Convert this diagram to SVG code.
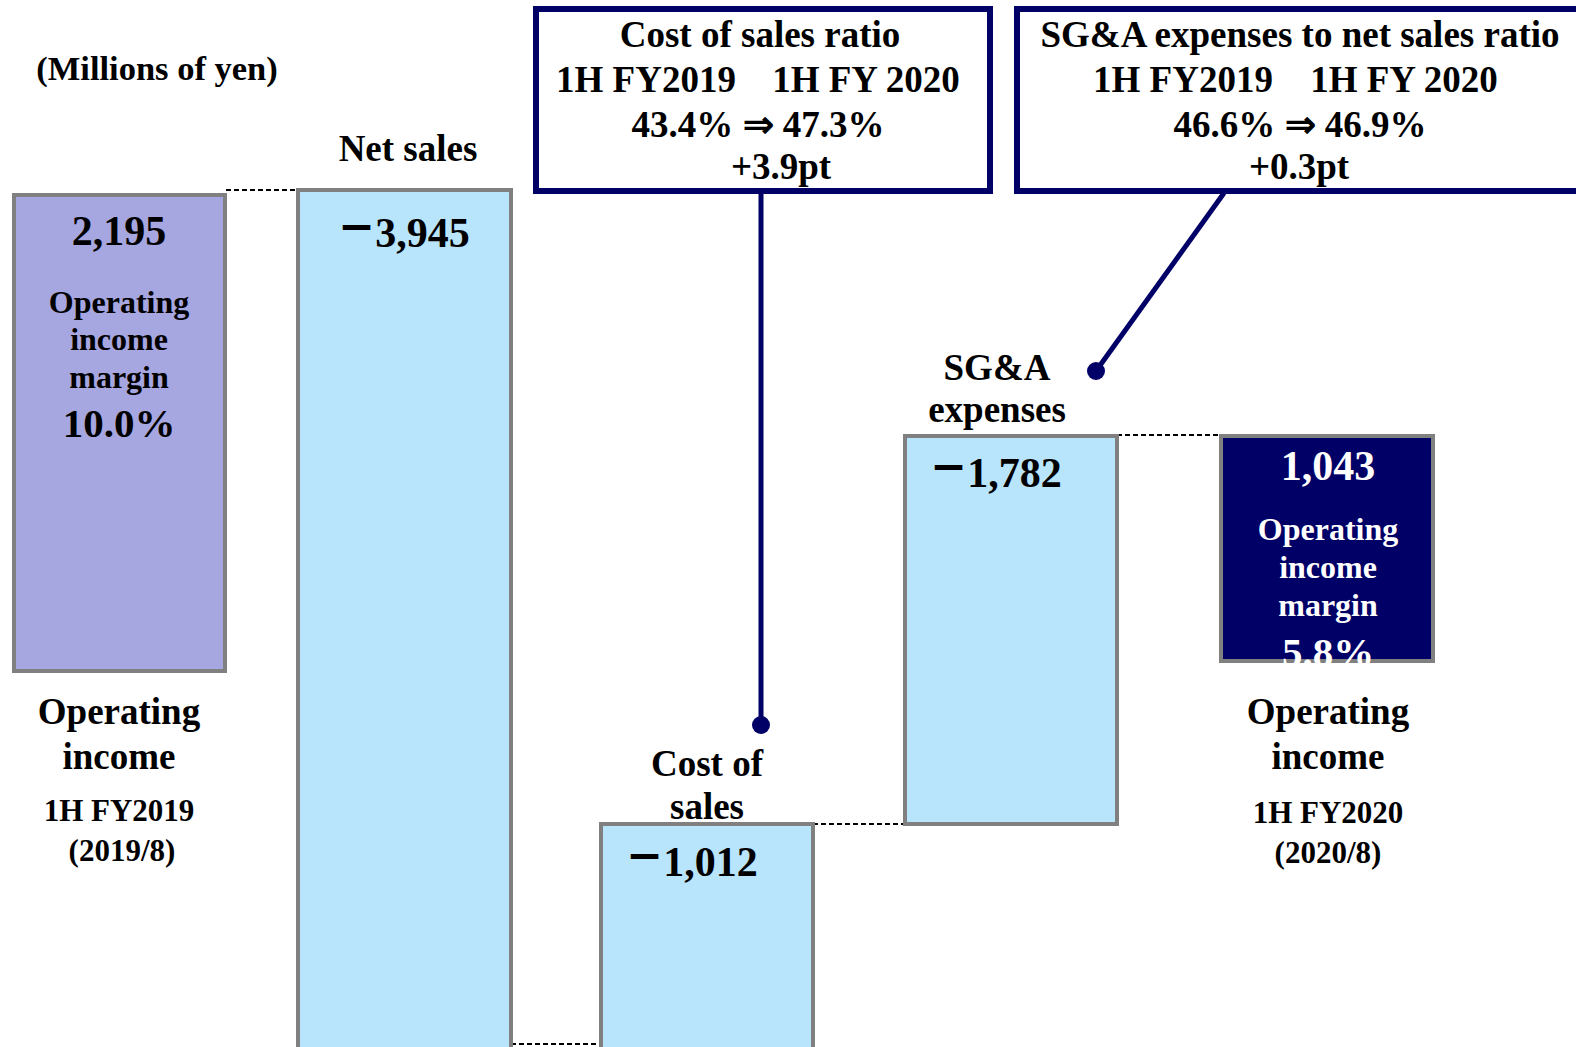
<svg xmlns="http://www.w3.org/2000/svg" width="1576" height="1047" viewBox="0 0 1576 1047">
<style>
text{font-family:"Liberation Serif","Times New Roman",serif;font-weight:bold;fill:#000;text-anchor:middle}
.bar{stroke:#808080;stroke-width:4}
.blue{fill:#B8E4FC}
.num{font-size:42px}
.lab{font-size:37px}
.sm{font-size:31px}
.mg{font-size:32px}
.w{fill:#fff}
.minus{font-family:"DejaVu Serif",serif;font-size:44px}
.call{fill:#fff;stroke:#000066;stroke-width:6}
.dash{stroke:#000;stroke-width:2;stroke-dasharray:5 3;fill:none}
.con{stroke:#000066;stroke-width:5;fill:none}
.dot{fill:#000066}
</style>
<rect width="1576" height="1047" fill="#fff"/>
<text x="157" y="80" style="font-size:34.5px">(Millions of yen)</text>

<g id="connectors">
<line class="dash" x1="226" y1="190" x2="298" y2="190"/>
<line class="dash" x1="511" y1="1044" x2="601" y2="1044"/>
<line class="dash" x1="813" y1="824" x2="905" y2="824"/>
<line class="dash" x1="1117" y1="435" x2="1221" y2="435"/>
<line class="con" x1="761" y1="193" x2="761" y2="725"/>
<circle class="dot" cx="761" cy="725" r="9"/>
<line class="con" x1="1224" y1="193" x2="1096" y2="371"/>
<circle class="dot" cx="1096" cy="371" r="9"/>
</g>

<g id="op2019">
<rect class="bar" x="14" y="195" width="211" height="476" fill="#A6A6E0"/>
<text class="num" x="119" y="245">2,195</text>
<text class="mg" x="119" y="313">Operating</text>
<text class="mg" x="119" y="350">income</text>
<text class="mg" x="119" y="388">margin</text>
<text x="119" y="437" style="font-size:41px">10.0%</text>
<text class="lab" x="119" y="724">Operating</text>
<text class="lab" x="119" y="769">income</text>
<text class="sm" x="119" y="821">1H FY2019</text>
<text class="sm" x="122" y="861">(2019/8)</text>
</g>

<g id="netsales">
<text class="lab" x="408" y="161">Net sales</text>
<rect class="bar blue" x="298" y="190" width="213" height="862"/>
<text class="num" x="404" y="247"><tspan class="minus" dy="-6">−</tspan><tspan dy="6">3,945</tspan></text>
</g>

<g id="costofsales">
<text class="lab" x="707" y="776">Cost of</text>
<text class="lab" x="707" y="819">sales</text>
<rect class="bar blue" x="601" y="824" width="212" height="230"/>
<text class="num" x="692" y="876"><tspan class="minus" dy="-6">−</tspan><tspan dy="6">1,012</tspan></text>
</g>

<g id="sga">
<text class="lab" x="997" y="380">SG&amp;A</text>
<text class="lab" x="997" y="422">expenses</text>
<rect class="bar blue" x="905" y="436" width="212" height="388"/>
<text class="num" x="996" y="487"><tspan class="minus" dy="-6">−</tspan><tspan dy="6">1,782</tspan></text>
</g>

<g id="op2020">
<rect class="bar" x="1221" y="436" width="212" height="225" fill="#000066"/>
<text class="num w" x="1328" y="480">1,043</text>
<text class="mg w" x="1328" y="540">Operating</text>
<text class="mg w" x="1328" y="578">income</text>
<text class="mg w" x="1328" y="616">margin</text>
<text class="w" x="1328" y="666" style="font-size:41px">5.8%</text>
<text class="lab" x="1328" y="724">Operating</text>
<text class="lab" x="1328" y="769">income</text>
<text class="sm" x="1328" y="823">1H FY2020</text>
<text class="sm" x="1328" y="863">(2020/8)</text>
</g>

<g id="callout-cos">
<rect class="call" x="536" y="9" width="454" height="182"/>
<text class="lab" x="760" y="47">Cost of sales ratio</text>
<text class="lab" x="646" y="92">1H FY2019</text>
<text class="lab" x="866" y="92">1H FY 2020</text>
<text class="lab" x="758" y="137">43.4% ⇒ 47.3%</text>
<text class="lab" x="781" y="179">+3.9pt</text>
</g>

<g id="callout-sga">
<rect class="call" x="1017" y="9" width="580" height="182"/>
<text class="lab" x="1300" y="47">SG&amp;A expenses to net sales ratio</text>
<text class="lab" x="1183" y="92">1H FY2019</text>
<text class="lab" x="1404" y="92">1H FY 2020</text>
<text class="lab" x="1300" y="137">46.6% ⇒ 46.9%</text>
<text class="lab" x="1299" y="179">+0.3pt</text>
</g>
</svg>
